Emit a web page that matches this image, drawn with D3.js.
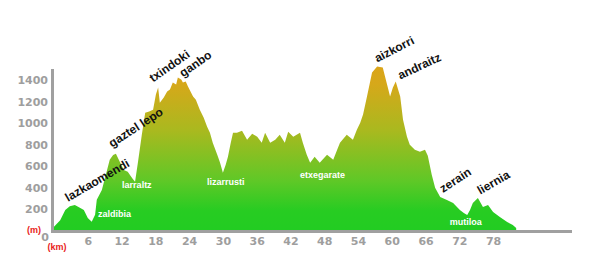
<!DOCTYPE html>
<html>
<head>
<meta charset="utf-8">
<script src="https://cdn.jsdelivr.net/npm/d3@7"></script>
<style>
  body { margin: 0; background: #fff; }
  .tick text { font-family: "DejaVu Sans", sans-serif; font-weight: bold; font-size: 11px; fill: #9e9e9e; }
  .peak { font-family: "Liberation Sans", Arial, sans-serif; font-weight: bold; font-size: 12px; fill: #111; }
  .place { font-family: "Liberation Sans", Arial, sans-serif; font-weight: bold; font-size: 9px; fill: #fff; }
  .unit { font-family: "Liberation Sans", Arial, sans-serif; font-weight: bold; font-size: 9px; fill: #e8231c; }
</style>
</head>
<body>
<svg id="chart"></svg>
<script>
// distance (km) and altitude (m) along the route
var km = [0, 1.1, 2.0, 2.8, 3.7, 4.6, 5.3, 6.0, 6.7, 7.3, 7.6, 8.5, 9.2, 9.9, 10.5, 11.0, 11.7, 12.4, 13.1, 13.9,
    14.4, 14.9, 15.6, 16.2, 16.9, 17.6, 18.1, 18.5, 18.8, 19.5, 20.1, 20.6, 21.1, 21.7, 22.0, 22.6, 22.9, 23.4, 23.8,
    24.7, 25.2, 25.9, 26.6, 27.2, 27.7, 28.2, 29.0, 29.5, 30.0, 30.5, 30.9, 31.4, 31.8, 32.5, 33.4, 34.3, 35.2, 36.1,
    36.9, 37.5, 38.4, 39.3, 40.1, 41.0, 41.6, 42.5, 43.7, 44.2, 44.9, 45.5, 46.3, 47.2, 48.5, 49.6, 50.3, 50.8, 52.0,
    53.1, 53.8, 54.4, 54.9, 55.6, 56.5, 57.4, 58.4, 58.8, 59.3, 59.7, 60.2, 60.7, 61.5, 62.0, 62.7, 63.2, 64.1, 65.0,
    65.9, 66.4, 67.1, 67.7, 68.6, 69.8, 70.9, 72.1, 72.8, 73.4, 73.9, 74.4, 75.3, 76.2, 77.1, 78.0, 79.2, 80.5, 81.5, 82.1];
var alt = [40, 100, 195, 230, 240, 215, 195, 120, 85, 150, 290, 380, 520, 660, 705, 716, 640, 565, 550, 490,
    456, 632, 893, 1097, 1107, 1125, 1265, 1330, 1190, 1237, 1293, 1311, 1376, 1358, 1423, 1404, 1376, 1386, 1340,
    1246, 1218, 1125, 1051, 967, 911, 818, 707, 632, 540, 614, 688, 818, 911, 911, 930, 846, 902, 874,
    818, 911, 818, 846, 893, 818, 920, 874, 911, 818, 707, 632, 688, 632, 707, 660, 753, 818, 893,
    846, 939, 1004, 1079, 1246, 1469, 1525, 1516, 1432, 1330, 1246, 1330, 1386, 1246, 1032, 874, 800, 753, 735,
    753, 698, 521, 400, 316, 288, 260, 195, 167, 149, 195, 260, 307, 223, 242, 177, 130, 84, 56, 28];

var xTicks = [6, 12, 18, 24, 30, 36, 42, 48, 54, 60, 66, 72, 78];
var yTicks = [200, 400, 600, 800, 1000, 1200, 1400];

// summits / passes (black, tilted) and villages (white)
var peakNames = ["lazkaomendi", "gaztel lepo", "txindoki", "ganbo", "aizkorri", "andraitz", "zerain", "liernia"];
var peakKm = [2.5, 10.3, 17.6, 22.9, 57.4, 61.5, 69.1, 75.7];
var peakAlt = [270, 772, 1376, 1423, 1562, 1404, 353, 335];
var peakTilt = [-30, -33, -35, -35, -27, -25, -33, -30];

var placeNames = ["zaldibia", "larraltz", "lizarrusti", "etxegarate", "mutiloa"];
var placeKm = [7.8, 12.1, 27.2, 43.7, 70.3];
var placeAlt = [130, 400, 428, 493, 56];

var width = 600,
    height = 280;

var x = d3.scaleLinear().domain([0, 78]).range([54, 493.1]),
    y = d3.scaleLinear().domain([0, 1400]).range([231, 80]);

var svg = d3.select("#chart").attr("width", width).attr("height", height);

var grad = svg.append("defs").append("linearGradient")
    .attr("id", "relief")
    .attr("gradientUnits", "userSpaceOnUse")
    .attr("x1", 0).attr("x2", 0)
    .attr("y1", y(1550)).attr("y2", y(0));
grad.selectAll("stop")
    .data([[0, "#dba419"], [0.12, "#d6a81a"], [0.4, "#a9b91f"], [0.7, "#5fc827"], [0.88, "#27cc22"], [1, "#22cc22"]])
    .enter().append("stop")
    .attr("offset", function(d) { return d[0]; })
    .attr("stop-color", function(d) { return d[1]; });

var profile = km.map(function(d, i) { return [d, alt[i]]; });

var area = d3.area()
    .x(function(d) { return x(d[0]); })
    .y0(y(0))
    .y1(function(d) { return y(d[1]); });

svg.append("path")
    .datum(profile)
    .attr("d", area)
    .attr("fill", "url(#relief)");

// thick grey axis bars
svg.append("line")
    .attr("x1", 52.5).attr("x2", 52.5)
    .attr("y1", 69).attr("y2", 233)
    .attr("stroke", "#a0a0a0").attr("stroke-width", 3);
svg.append("line")
    .attr("x1", 51).attr("x2", 572)
    .attr("y1", 231.5).attr("y2", 231.5)
    .attr("stroke", "#a0a0a0").attr("stroke-width", 3);

var yAxis = svg.append("g")
    .attr("transform", "translate(52,0)")
    .call(d3.axisLeft(y).tickValues(yTicks).tickFormat(d3.format("d")).tickSize(0).tickPadding(4));
var xAxis = svg.append("g")
    .attr("transform", "translate(0," + y(0) + ")")
    .call(d3.axisBottom(x).tickValues(xTicks).tickFormat(d3.format("d")).tickSize(0).tickPadding(6));
yAxis.select(".domain").remove();
xAxis.select(".domain").remove();
svg.selectAll(".tick text").attr("font-family", null).attr("font-size", null);

svg.append("text")
    .attr("x", 45).attr("y", 241)
    .attr("text-anchor", "middle")
    .style("font-family", "DejaVu Sans, sans-serif")
    .style("font-weight", "bold")
    .style("font-size", "11px")
    .style("fill", "#9e9e9e")
    .text("0");

svg.append("text").attr("class", "unit")
    .attr("x", 34).attr("y", 233).attr("text-anchor", "middle").text("(m)");
svg.append("text").attr("class", "unit")
    .attr("x", 57).attr("y", 250).attr("text-anchor", "middle").text("(km)");

svg.selectAll(".peak")
    .data(peakNames)
    .enter().append("text")
    .attr("class", "peak")
    .attr("transform", function(d, i) {
        return "translate(" + x(peakKm[i]) + "," + y(peakAlt[i]) + ") rotate(" + peakTilt[i] + ")";
    })
    .text(function(d) { return d; });

svg.selectAll(".place")
    .data(placeNames)
    .enter().append("text")
    .attr("class", "place")
    .attr("x", function(d, i) { return x(placeKm[i]); })
    .attr("y", function(d, i) { return y(placeAlt[i]); })
    .text(function(d) { return d; });
</script>
</body>
</html>
